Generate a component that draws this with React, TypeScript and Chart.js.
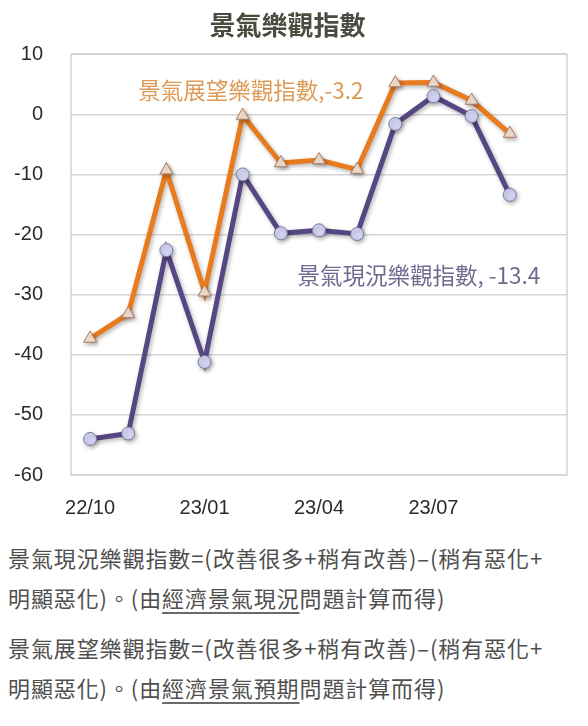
import React, { useEffect, useRef } from 'react';
import { Chart, registerables } from 'chart.js';

Chart.register(...registerables);

// months shown on the category axis (last slot left empty, as in the source chart)
const months = ['22/10', '22/11', '22/12', '23/01', '23/02', '23/03', '23/04', '23/05', '23/06', '23/07', '23/08', '23/09', '23/10'];
const tickMonths = ['22/10', '23/01', '23/04', '23/07'];

// 景氣現況樂觀指數
const currentIndex = [-54, -53.1, -22.6, -41.2, -10, -19.8, -19.3, -19.9, -1.6, 3.0, -0.3, -13.4, null];
// 景氣展望樂觀指數
const outlookIndex = [-37.3, -33.2, -9.3, -29.6, -0.2, -8.1, -7.6, -9.2, 5.2, 5.3, 2.3, -3.2, null];

const yMin = -60;
const yMax = 10;
const yStep = 10;

const chartTitle = '景氣樂觀指數';
const currentName = '景氣現況樂觀指數, -13.4';
const outlookName = '景氣展望樂觀指數,-3.2';

const ORANGE = '#e97b1f';
const PURPLE = '#564683';
const CJK = '"Noto Sans CJK TC", "Noto Sans", sans-serif';
const LATIN = '"Liberation Sans", Arial, sans-serif';

// where the series names sit, in axis units (x = category index, y = value)
const seriesLabels = [
  { text: outlookName, x: 1.26, y: 4.0, align: 'left' as CanvasTextAlign, color: '#dc9a56' },
  { text: currentName, x: 11.8, y: -26.8, align: 'right' as CanvasTextAlign, color: '#6e6a90' },
];

const framePlugin = {
  id: 'frameAndShadow',
  beforeDatasetsDraw(chart: Chart) {
    const { ctx, chartArea } = chart;
    ctx.save();
    ctx.strokeStyle = '#d3d3d3';
    ctx.lineWidth = 1.5;
    ctx.strokeRect(chartArea.left, chartArea.top, chartArea.right - chartArea.left, chartArea.bottom - chartArea.top);
    ctx.restore();
    ctx.save();
    ctx.shadowColor = 'rgba(0,0,0,0.3)';
    ctx.shadowBlur = 4;
    ctx.shadowOffsetX = 1.5;
    ctx.shadowOffsetY = 2;
  },
  afterDatasetsDraw(chart: Chart) {
    const { ctx } = chart;
    ctx.restore();
    const xs = chart.scales.x;
    const ys = chart.scales.y;
    ctx.save();
    ctx.font = `22.5px ${CJK}`;
    ctx.textBaseline = 'middle';
    seriesLabels.forEach((l) => {
      ctx.fillStyle = l.color;
      ctx.textAlign = l.align;
      ctx.fillText(l.text, xs.getPixelForValue(l.x), ys.getPixelForValue(l.y));
    });
    ctx.restore();
  },
};

const OptimismChart: React.FC = () => {
  const chartRef = useRef<HTMLCanvasElement>(null);

  useEffect(() => {
    const ctx = chartRef.current?.getContext('2d');
    if (!ctx) return;

    const chart = new Chart(ctx, {
      type: 'line',
      data: {
        labels: months,
        datasets: [
          {
            label: '景氣現況樂觀指數',
            data: currentIndex,
            borderColor: PURPLE,
            borderWidth: 5,
            pointStyle: 'circle',
            pointRadius: 6.5,
            pointBackgroundColor: '#d2d2f2',
            pointBorderColor: '#7c7aa0',
            pointBorderWidth: 1,
            tension: 0,
            fill: false,
          },
          {
            label: '景氣展望樂觀指數',
            data: outlookIndex,
            borderColor: ORANGE,
            borderWidth: 5,
            pointStyle: 'triangle',
            pointRadius: 7.5,
            pointBackgroundColor: '#f4e2d0',
            pointBorderColor: '#a97a66',
            pointBorderWidth: 1,
            tension: 0,
            fill: false,
          },
        ],
      },
      options: {
        responsive: true,
        maintainAspectRatio: false,
        animation: false,
        layout: { padding: { left: 0, right: 13, top: 0, bottom: 13 } },
        plugins: {
          legend: { display: false },
          tooltip: { enabled: false },
          title: {
            display: true,
            text: chartTitle,
            color: '#4a4a3e',
            font: { family: CJK, size: 26, weight: 'bold' },
            padding: { top: 2, bottom: 13 },
          },
        },
        scales: {
          x: {
            offset: true,
            grid: { display: false },
            border: { display: false },
            afterFit: (scale) => {
              scale.height = 40;
            },
            ticks: {
              autoSkip: false,
              maxRotation: 0,
              padding: 13,
              color: '#2b2b2b',
              font: { family: LATIN, size: 20 },
              callback: (_v, i) => (tickMonths.includes(months[i]) ? months[i] : ''),
            },
          },
          y: {
            min: yMin,
            max: yMax,
            border: { display: false },
            grid: { color: '#d6d6d6', lineWidth: 1.5, drawTicks: false },
            afterFit: (scale) => {
              scale.width = 63;
            },
            ticks: {
              stepSize: yStep,
              padding: 28,
              color: '#2b2b2b',
              font: { family: LATIN, size: 20 },
            },
          },
        },
      },
      plugins: [framePlugin],
    });

    return () => {
      chart.destroy();
    };
  }, []);

  return (
    <div style={{ position: 'relative', width: 572, height: 520 }}>
      <canvas ref={chartRef} />
    </div>
  );
};

const underline: React.CSSProperties = {
  textDecoration: 'underline',
  textDecorationColor: '#6a6a6a',
  textDecorationThickness: 2,
  textUnderlineOffset: 5,
};

const App: React.FC = () => (
  <div style={{ width: 572 }}>
    <OptimismChart />
    <div
      style={{
        fontFamily: CJK,
        fontSize: 22,
        letterSpacing: 0.9,
        color: '#4f4f4f',
        lineHeight: '40px',
        whiteSpace: 'nowrap',
        marginTop: 9,
      }}
    >
      <div>
        景氣現況樂觀指數=(改善很多+稍有改善)–(稍有惡化+
        <br />
        明顯惡化)。(由<span style={underline}>經濟景氣現況</span>問題計算而得)
      </div>
      <div style={{ marginTop: 10 }}>
        景氣展望樂觀指數=(改善很多+稍有改善)–(稍有惡化+
        <br />
        明顯惡化)。(由<span style={underline}>經濟景氣預期</span>問題計算而得)
      </div>
    </div>
  </div>
);

export default App;
